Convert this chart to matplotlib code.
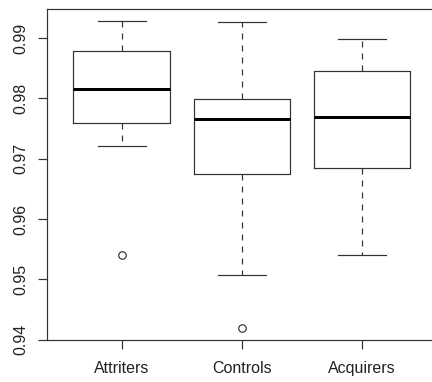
import matplotlib
matplotlib.use("Agg")
import matplotlib.pyplot as plt

categories = ["Attriters", "Controls", "Acquirers"]
whisker_lo = [0.97217, 0.95071, 0.95396]
q1 = [0.97588, 0.96748, 0.96853]
median = [0.98151, 0.97664, 0.97697]
q3 = [0.98790, 0.97990, 0.98454]
whisker_hi = [0.99277, 0.99260, 0.98983]
outliers = [[0.95396], [0.94199], []]
yticks = [0.94, 0.95, 0.96, 0.97, 0.98, 0.99]
ytick_labels = ["0.94", "0.95", "0.96", "0.97", "0.98", "0.99"]

plt.rcParams['font.family'] = ['Liberation Sans', 'DejaVu Sans']

fig = plt.figure(figsize=(6.0, 382/72), dpi=72)
W, H = 432, 382
left, right, top, bottom = 47, 436.6, 9, 340
ax = fig.add_axes([left/W, (H-bottom)/H, (right-left)/W, (bottom-top)/H])

stats = []
for i, c in enumerate(categories):
    stats.append(dict(label=c, med=median[i], q1=q1[i], q3=q3[i],
                      whislo=whisker_lo[i], whishi=whisker_hi[i],
                      fliers=outliers[i]))

lc = '#333333'
ax.bxp(stats, positions=[1, 2, 3], widths=0.8, capwidths=0.4,
       boxprops=dict(color=lc, linewidth=1.2),
       medianprops=dict(color='black', linewidth=3, solid_capstyle='butt'),
       whiskerprops=dict(color=lc, linewidth=1.2, linestyle=(0, (5, 5))),
       capprops=dict(color=lc, linewidth=1.2),
       flierprops=dict(marker='o', markerfacecolor='none', markeredgecolor=lc,
                       markersize=7.5, markeredgewidth=1.2))

allv = whisker_lo + whisker_hi + [v for o in outliers for v in o]
lo, hi = min(allv), max(allv)
r = hi - lo
ax.set_ylim(lo - 0.04*r, hi + 0.04*r)
ax.set_xlim(0.5 - 0.12, 3.5 + 0.12)

ax.set_yticks(yticks)
ax.set_yticklabels(ytick_labels, rotation=90, va='center')
ax.set_xticks([1, 2, 3])
ax.set_xticklabels(categories)
ax.tick_params(axis='both', labelsize=16, length=9, width=1.2, color=lc, labelcolor='#222222')
ax.tick_params(axis='y', pad=10)
ax.tick_params(axis='x', pad=12)
for s in ax.spines.values():
    s.set_linewidth(1.2)
    s.set_color(lc)

fig.savefig("out.png", dpi=72)
